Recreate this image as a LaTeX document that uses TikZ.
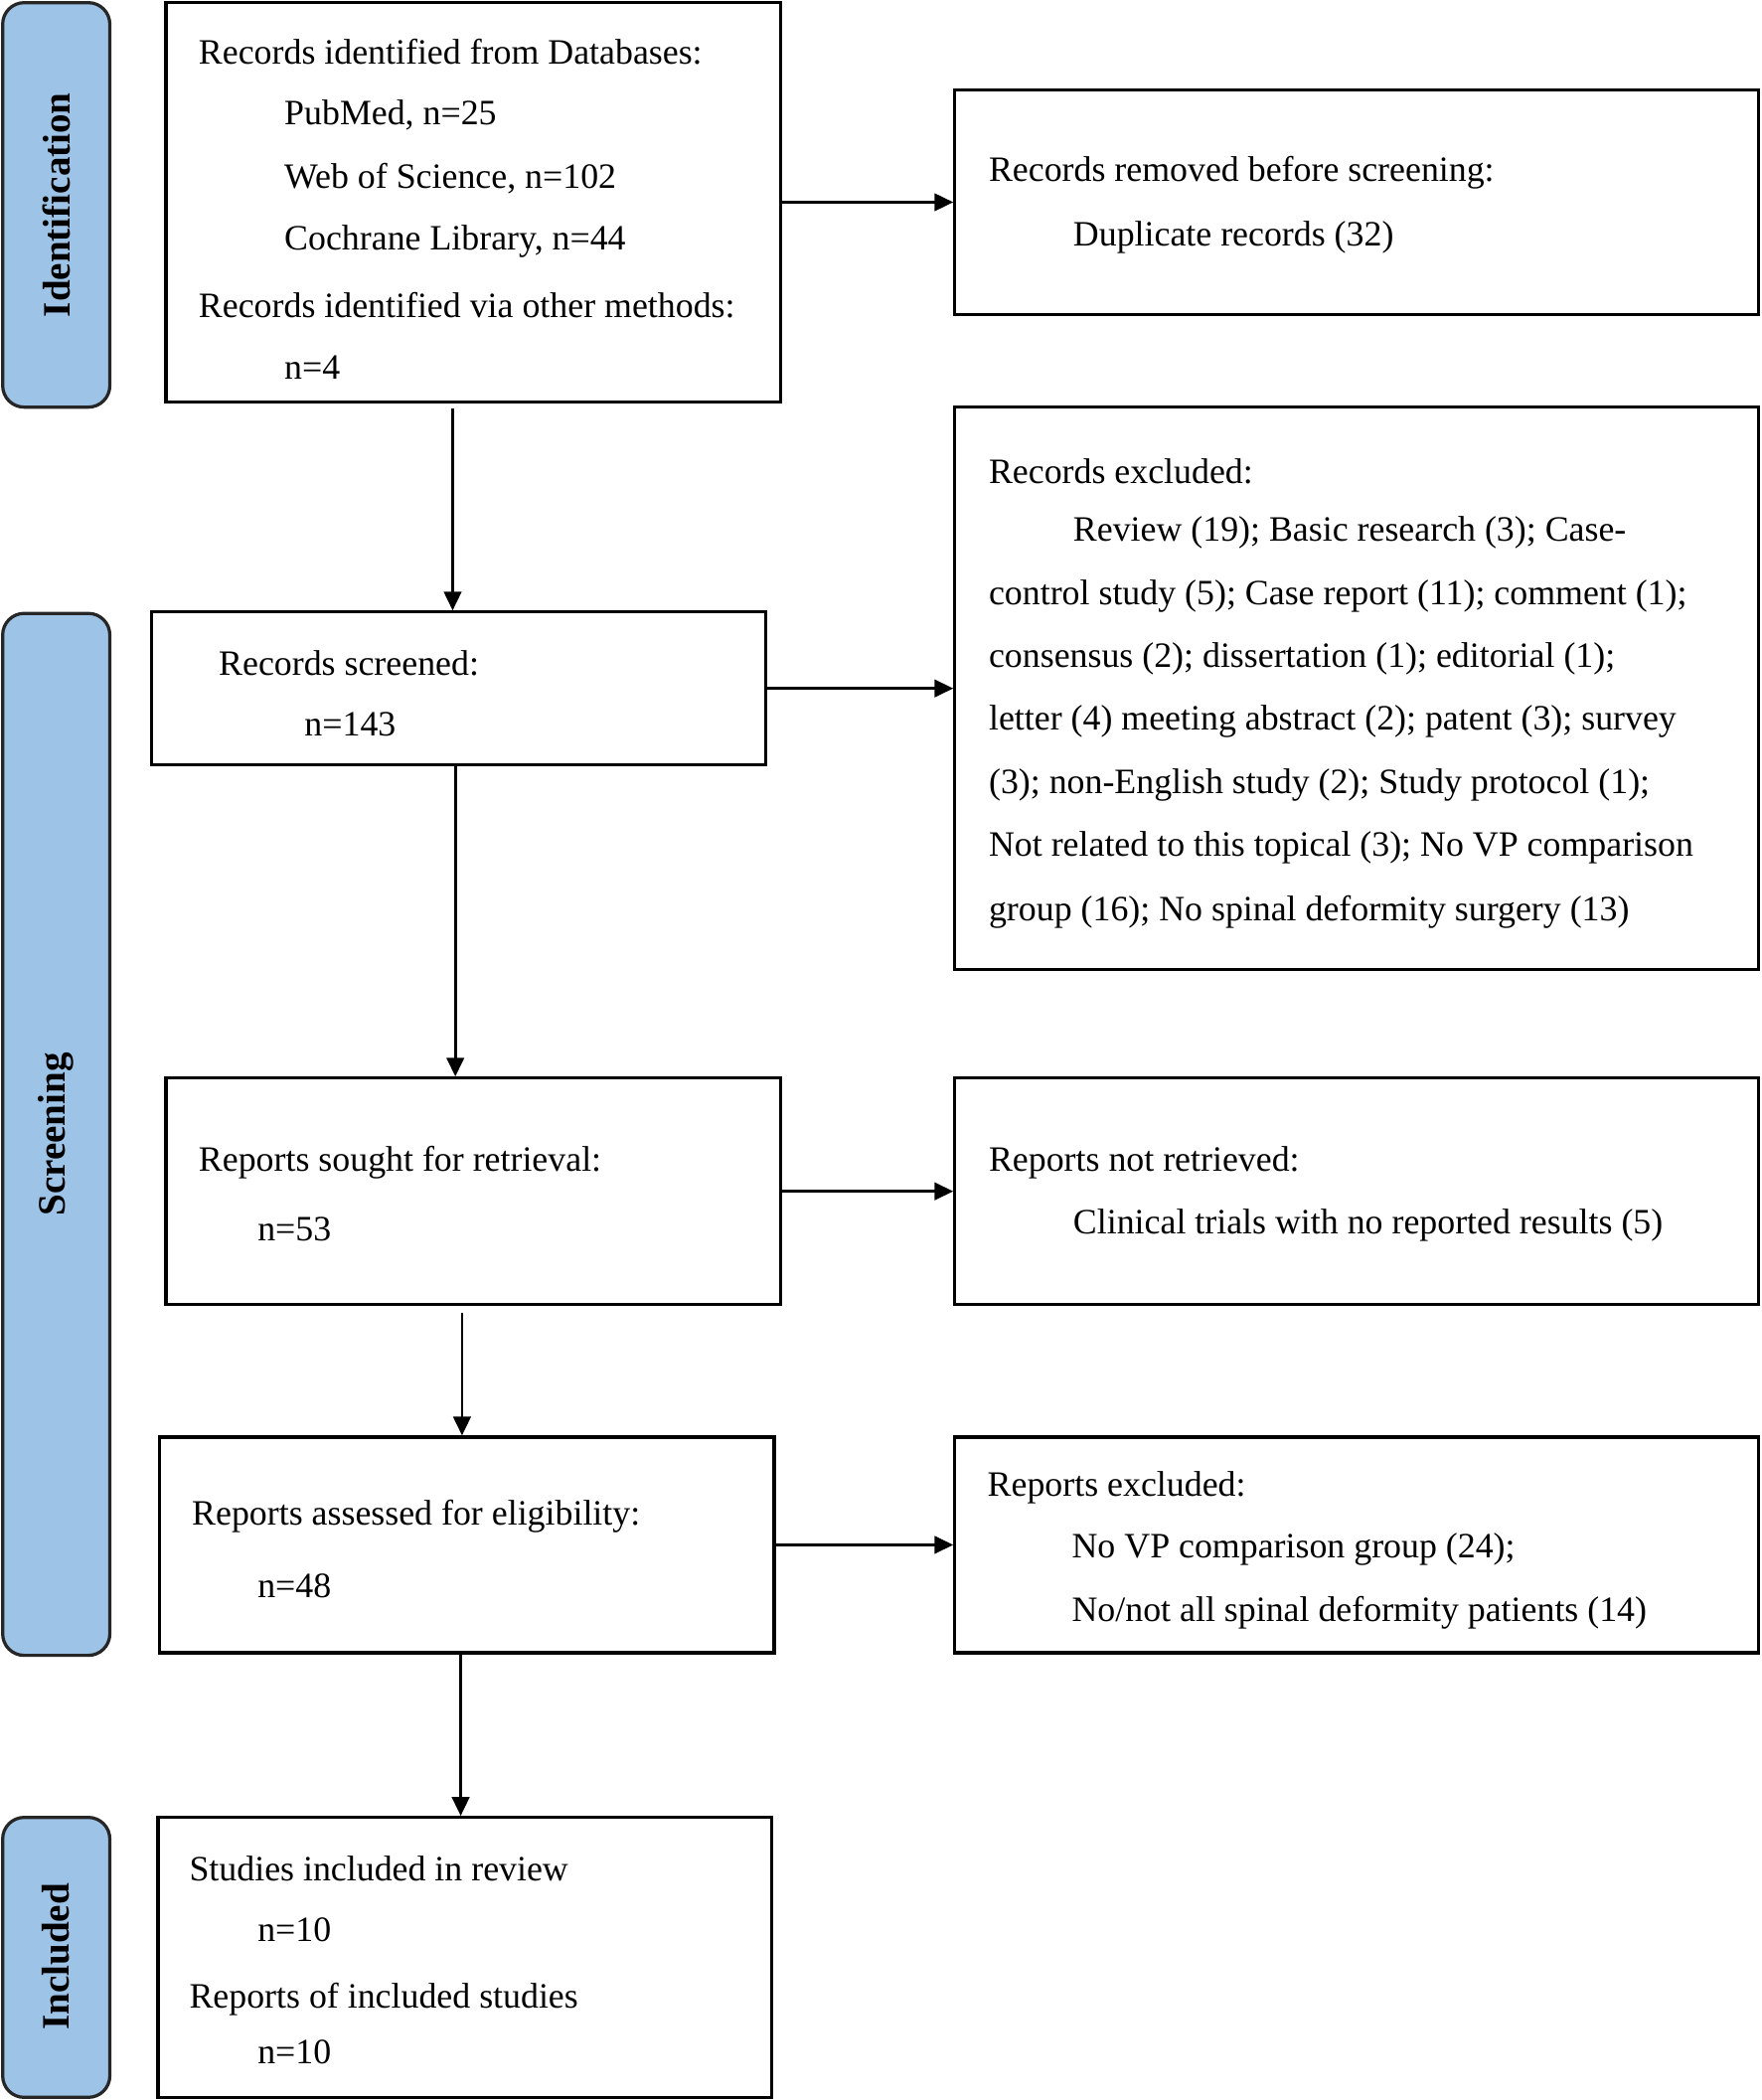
\documentclass[tikz,border=0pt]{standalone}
\usepackage{fontspec}
\setmainfont{Liberation Serif}
\usetikzlibrary{arrows.meta}
\begin{document}
\begin{tikzpicture}[x=0.5pt,y=-0.5pt,
 box/.style={draw,line width=1.2pt,inner sep=0pt},
 side/.style={draw=black!85,line width=1.2pt,fill={rgb,255:red,157;green,195;blue,230},rounded corners=8pt,inner sep=0pt},
 t/.style={anchor=west,inner sep=0pt,font=\fontsize{13.3}{16}\selectfont},
 st/.style={rotate=90,font=\fontsize{14.5}{17}\selectfont\bfseries},
 arr/.style={line width=1pt,-{Triangle[length=7pt,width=6.5pt]}}]
\useasboundingbox (0,0) rectangle (1315,1568);
% side labels
\draw[side] (2,2) rectangle (82,304); \node[st] (s1) at (42,153) {Identification};
\draw[side] (2,458) rectangle (82,1236); \node[st] (s2) at (42,847) {Screening};
\draw[side] (2,1357) rectangle (82,1566); \node[st] (s3) at (42,1461) {Included};
% boxes
\node[box,minimum width=229.5pt,minimum height=149pt] (b1) at (353.5,151) {};
\node[box,minimum width=300pt,minimum height=84pt] (r1) at (1013,151) {};
\node[box,minimum width=229.5pt,minimum height=57pt] (b2) at (342.5,514) {};
\node[box,minimum width=300pt,minimum height=210pt] (r2) at (1013,514) {};
\node[box,minimum width=229.5pt,minimum height=84.5pt] (b3) at (353.5,889.5) {};
\node[box,minimum width=300pt,minimum height=84.5pt] (r3) at (1013,889.5) {};
\node[box,minimum width=229.5pt,minimum height=80.5pt] (b4) at (348.5,1153.5) {};
\node[box,minimum width=300pt,minimum height=80.5pt] (r4) at (1013,1153.5) {};
\node[box,minimum width=229pt,minimum height=104.5pt] (b5) at (347,1461.5) {};
% texts
\node[t] at (148,39) {Records identified from Databases:};
\node[t] at (212,86) {PubMed, n=25};
\node[t] at (212,133) {Web of Science, n=102};
\node[t] at (212,180) {Cochrane Library, n=44};
\node[t] at (148,228) {Records identified via other methods:};
\node[t] at (212,274) {n=4};
\node[t] at (738,129) {Records removed before screening:};
\node[t] at (801,177) {Duplicate records (32)};
\node[t] at (163,495) {Records screened:};
\node[t] at (227,541) {n=143};
\node[t] at (738,352) {Records excluded:};
\node[t] at (801,398) {Review (19); Basic research (3); Case-};
\node[t] at (738,445) {control study (5); Case report (11); comment (1);};
\node[t] at (738,492) {consensus (2); dissertation (1); editorial (1);};
\node[t] at (738,539) {letter (4) meeting abstract (2); patent (3); survey};
\node[t] at (738,586) {(3); non-English study (2); Study protocol (1);};
\node[t] at (738,633) {Not related to this topical (3); No VP comparison};
\node[t] at (738,681) {group (16); No spinal deformity surgery (13)};
\node[t] at (148,868) {Reports sought for retrieval:};
\node[t] at (192,918) {n=53};
\node[t] at (738,868) {Reports not retrieved:};
\node[t] at (801,915) {Clinical trials with no reported results (5)};
\node[t] at (143,1132) {Reports assessed for eligibility:};
\node[t] at (192,1184) {n=48};
\node[t] at (737,1111) {Reports excluded:};
\node[t] at (800,1157) {No VP comparison group (24);};
\node[t] at (800,1204) {No/not all spinal deformity patients (14)};
\node[t] at (141,1395) {Studies included in review};
\node[t] at (192,1441) {n=10};
\node[t] at (141,1493) {Reports of included studies};
\node[t] at (192,1532) {n=10};
% arrows
\coordinate (a1) at (338,305); \coordinate (a2) at (340,571);
\coordinate (a3) at (345,980); \coordinate (a4) at (344,1234);
\draw[arr] (a1) -- (a1 |- b2.north);
\draw[arr] (a2) -- (a2 |- b3.north);
\draw[arr] (a3) -- (a3 |- b4.north);
\draw[arr] (a4) -- (a4 |- b5.north);
\draw[arr] (b1.east) -- (r1.west |- b1.east);
\draw[arr] (b2.east) -- (r2.west |- b2.east);
\draw[arr] (b3.east) -- (r3.west |- b3.east);
\draw[arr] (b4.east) -- (r4.west |- b4.east);
\end{tikzpicture}
\end{document}
